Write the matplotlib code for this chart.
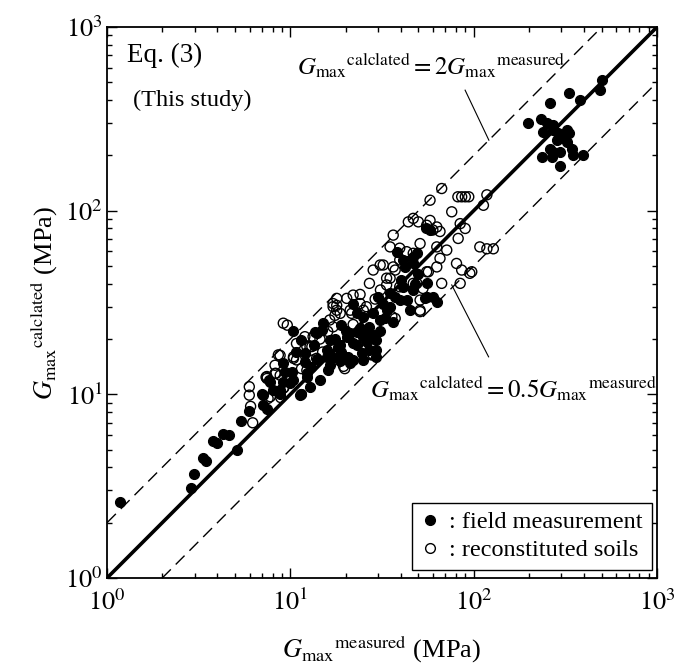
import matplotlib.pyplot as plt
import numpy as np
from matplotlib.lines import Line2D
from matplotlib.ticker import LogLocator, FuncFormatter, NullFormatter

plt.rcParams['font.family'] = ['Liberation Serif', 'DejaVu Serif']
plt.rcParams['mathtext.fontset'] = 'stix'

# field measurement (filled circles): measured, calculated [MPa]
field_meas = [1.18, 2.86, 2.98, 3.35, 3.47, 3.77, 3.96, 4.28, 4.65, 5.14, 5.36, 5.97,
              7.06, 7.06, 7.48, 7.67, 8.79, 11.4, 9.96, 14.5, 12.3, 8.07, 9.15, 10.2,
              10.4, 11.5, 12.0, 12.3, 11.3, 15.1, 13.9, 15.8, 16.4, 16.4, 18.7, 20.3,
              20.7, 23.0, 24.5, 26.1, 28.3, 29.5, 23.0, 28.3, 9.15, 12.8,
              14.8, 18.2, 21.1, 23.0, 25.0, 27.0, 29.5, 27.0, 30.2, 33.5, 36.4, 30.9,
              25.0, 22.0, 35.0, 41.2, 46.8, 49.0, 38.0, 55.4, 55.4, 43.1, 18.7, 22.0,
              15.8, 29.5, 25.0, 21.1,
              55.0, 58.0, 41.2, 42.1, 46.8, 35.0, 39.5, 44.9, 59.9, 62.9, 54.2, 46.8,
              13.6, 17.1, 9.4, 10.4, 7.77, 6.97, 11.5, 8.8,
              13.0, 14.0, 16.0, 17.5, 19.0, 20.0, 22.0, 24.0, 26.0, 19.0, 31.0, 33.0,
              12.0, 10.8, 13.5, 32.0, 37.0, 40.0, 50.0, 48.0,
              499, 490, 333, 380, 261, 199, 232, 250, 272, 240, 272, 290, 322, 333,
              308, 299, 284, 322, 343, 350, 397, 261, 272, 296, 267, 235, 296]
field_calc = [2.6, 3.1, 3.7, 4.5, 4.35, 5.6, 5.4, 6.1, 6.0, 5.0, 7.2, 8.1,
              9.9, 8.75, 8.3, 12.0, 10.5, 10.0, 11.5, 12.0, 13.0, 10.6, 14.8, 13.3,
              22.2, 19.8, 16.7, 12.5, 9.9, 24.4, 21.5, 17.4, 14.4, 19.8, 18.5, 20.6,
              16.0, 21.9, 16.7, 19.3, 21.0, 17.4, 27.6, 27.6, 11.7, 11.0,
              22.4, 18.2, 21.5, 18.5, 20.6, 23.3, 19.8, 17.4, 34.0, 28.7, 24.9, 25.4,
              26.5, 31.2, 35.5, 38.5, 51.6, 58.6, 59.8, 34.0, 40.2, 32.6, 15.1, 15.4,
              16.0, 16.0, 15.4, 14.8,
              80.0, 78.0, 53.9, 49.4, 56.0, 29.9, 32.6, 28.7, 34.0, 32.0, 33.3, 37.0,
              21.9, 16.0, 13.3, 12.0, 11.7, 10.1, 10.1, 10.1,
              14.0, 15.5, 13.5, 20.0, 17.0, 22.0, 19.0, 23.0, 21.0, 24.0, 22.0, 26.0,
              15.0, 17.0, 18.5, 31.0, 34.0, 42.0, 45.0, 40.0,
              514, 454, 435, 403, 384, 299, 314, 301, 293, 269, 275, 264, 275, 264,
              248, 254, 242, 237, 218, 201, 201, 218, 209, 209, 196, 196, 175]

# reconstituted soils (open circles): measured, calculated [MPa]
recon_meas = [5.97, 5.97, 6.07, 6.23, 7.37, 8.34, 7.77, 9.23, 8.86, 9.62, 8.25, 8.79,
              7.45, 7.56, 9.15, 10.4, 10.8, 12.3, 11.5, 13.3, 13.9, 17.1, 18.7, 19.8,
              21.2, 24.0, 27.0, 17.9, 16.4, 8.8,
              17.1, 17.9, 20.3, 22.0, 21.6, 25.0, 27.0, 28.3, 30.9, 35.0, 36.4, 39.5,
              39.5, 49.0, 55.4, 51.0, 37.3, 28.3, 19.5, 13.1, 10.4, 13.3, 9.15,
              66.9, 57.8, 82, 86, 90, 94, 118, 113, 75.9, 46.8, 49.9, 55.4, 62.9, 84.4,
              89.9, 82.3, 71.3, 65.5, 62.9, 56.6, 108, 118, 128, 80.6, 86.0, 95.3,
              84.4, 66.9, 36.4, 35.0, 39.5, 43.1, 46.8, 51.0, 62.9, 32.1, 37.3, 33.5,
              33.5, 46.8, 52.9, 51.0, 51.0, 35.8, 57.8, 59.9, 65.5, 44.0, 97.6, 27.6,
              12.0, 12.8, 8.6, 8.25, 10.8, 12.3, 7.45, 17.1, 17.5, 17.9,
              14.5, 16.0, 15.0, 22.0, 26.0, 29.0, 31.0, 24.0]
recon_calc = [11.0, 9.9, 8.6, 7.0, 12.4, 13.0, 9.7, 10.9, 9.6, 23.8, 14.4, 16.3,
              12.5, 9.5, 10.8, 15.7, 18.9, 18.2, 13.8, 20.6, 15.7, 23.3, 27.6, 13.8,
              28.7, 31.2, 16.7, 30.5, 25.4, 12.7,
              31.2, 28.7, 33.3, 34.7, 27.6, 28.7, 40.2, 47.5, 50.6, 42.9, 49.4, 53.9,
              38.5, 40.2, 46.5, 28.7, 25.9, 16.4, 14.2, 18.2, 16.0, 15.4, 24.4,
              132, 114, 119, 119, 119, 119, 122, 107, 98.6, 90.8, 86.9, 83.3, 81.5, 85.0,
              80.0, 70.6, 61.0, 55.0, 49.4, 46.5, 63.5, 62.0, 62.0, 51.6, 47.5, 45.6,
              40.2, 40.2, 73.6, 63.5, 62.5, 59.8, 58.6, 66.2, 63.5, 50.6, 47.5, 42.9,
              39.4, 40.2, 37.7, 32.6, 28.2, 26.5, 88.5, 78.5, 77.0, 86.9, 46.5, 16.4,
              20.6, 18.2, 16.4, 13.0, 15.4, 13.5, 12.2, 30.0, 26.9, 33.3,
              20.0, 22.0, 17.0, 24.0, 30.0, 33.0, 37.0, 35.0]

fig = plt.figure(figsize=(6.74, 6.72), dpi=100)
ax = fig.add_axes([0.1588, 0.1399, 0.8160, 0.8199])

# reference lines
xx = np.array([1, 1000])
ax.plot(xx, xx, color='black', lw=2.6, zorder=2)
ax.plot(xx, 2 * xx, color='black', lw=1.0, dashes=(9, 5), zorder=2)
ax.plot(xx, 0.5 * xx, color='black', lw=1.0, dashes=(9, 5), zorder=2)

ax.scatter(field_meas, field_calc, s=52, facecolor='black', edgecolor='black',
           linewidths=0.8, zorder=3)
ax.scatter(recon_meas, recon_calc, s=52, facecolor='none', edgecolor='black',
           linewidths=1.0, zorder=4)

ax.set_xscale('log')
ax.set_yscale('log')
ax.set_xlim(1, 1000)
ax.set_ylim(1, 1000)

fmt = FuncFormatter(lambda v, p: r'$10^{%d}$' % round(np.log10(v)))
for axis in (ax.xaxis, ax.yaxis):
    axis.set_major_locator(LogLocator(base=10, numticks=10))
    axis.set_minor_locator(LogLocator(base=10, subs=np.arange(2, 10), numticks=10))
    axis.set_major_formatter(fmt)
    axis.set_minor_formatter(NullFormatter())
ax.tick_params(which='both', direction='in', top=True, right=True, width=1.0)
ax.tick_params(which='major', length=7, labelsize=19)
ax.tick_params(which='minor', length=3.5)
ax.tick_params(axis='x', pad=8)
ax.tick_params(axis='y', pad=3)
for s in ax.spines.values():
    s.set_linewidth(1.3)

ax.set_xlabel(r'${G_{\rm max}}^{\rm measured}$ (MPa)', fontsize=19, labelpad=13)
ax.set_ylabel(r'${G_{\rm max}}^{\rm calclated}$ (MPa)', fontsize=19, labelpad=4)

ax.text(1.29, 700, 'Eq. (3)', fontsize=19.5, va='center', ha='left')
ax.text(1.39, 400, '(This study)', fontsize=17.5, va='center', ha='left')

# 2x line label with leader
ax.text(58.6, 547, r'${G_{\rm max}}^{\rm calclated} = 2{G_{\rm max}}^{\rm measured}$',
        fontsize=18, ha='center', va='baseline')
ax.plot([89.8, 121], [453, 242], color='black', lw=0.8)

# 0.5x line label with leader
ax.text(164, 9.55, r'${G_{\rm max}}^{\rm calclated} = 0.5{G_{\rm max}}^{\rm measured}$',
        fontsize=18, ha='center', va='baseline')
ax.plot([75.9, 120.6], [39.4, 16.0], color='black', lw=0.8)

handles = [Line2D([], [], ls='none', marker='o', ms=7, mfc='black', mec='black'),
           Line2D([], [], ls='none', marker='o', ms=7, mfc='white', mec='black', mew=1.0)]
leg = ax.legend(handles, [': field measurement', ': reconstituted soils'],
                loc='lower right', bbox_to_anchor=(0.99, 0.015), borderaxespad=0,
                fontsize=17.5, handlelength=0.8, handletextpad=0.4, borderpad=0.35,
                labelspacing=0.25, fancybox=False, framealpha=1, edgecolor='black')
leg.get_frame().set_linewidth(1.0)

fig.savefig('out.png', dpi=100)
